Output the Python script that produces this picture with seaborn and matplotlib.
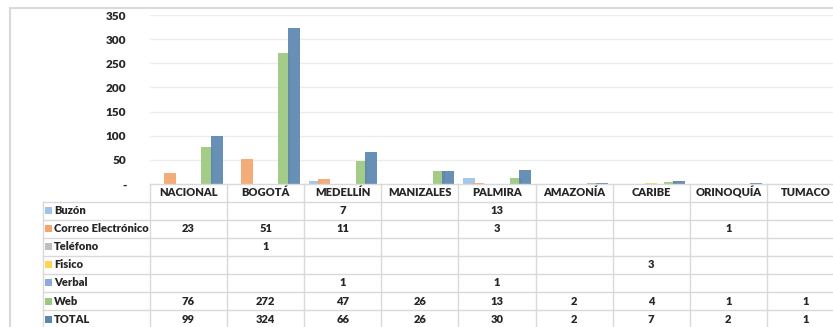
import numpy as np
import pandas as pd
import matplotlib.pyplot as plt
import seaborn as sns
from matplotlib.patches import Rectangle
from matplotlib.lines import Line2D

# datos de la tabla
regiones = ['NACIONAL', 'BOGOTÁ', 'MEDELLÍN', 'MANIZALES', 'PALMIRA',
            'AMAZONÍA', 'CARIBE', 'ORINOQUÍA', 'TUMACO']
canales = ['Buzón', 'Correo Electrónico', 'Teléfono', 'Fisico', 'Verbal', 'Web', 'TOTAL']
nan = np.nan
buzon = [nan, nan, 7, nan, 13, nan, nan, nan, nan]
correo = [23, 51, 11, nan, 3, nan, nan, 1, nan]
telefono = [nan, 1, nan, nan, nan, nan, nan, nan, nan]
fisico = [nan, nan, nan, nan, nan, nan, 3, nan, nan]
verbal = [nan, nan, 1, nan, 1, nan, nan, nan, nan]
web = [76, 272, 47, 26, 13, 2, 4, 1, 1]
total = [99, 324, 66, 26, 30, 2, 7, 2, 1]
series = [buzon, correo, telefono, fisico, verbal, web, total]
colores = ['#9DC3E6', '#F4A56E', '#BFBFBF', '#FFD44F', '#8EA9DB', '#9BC87E', '#5B86B0']
yticks = [0, 50, 100, 150, 200, 250, 300, 350]

filas = []
for canal, vals in zip(canales, series):
    for reg, v in zip(regiones, vals):
        filas.append({'region': reg, 'canal': canal, 'valor': v})
df = pd.DataFrame(filas)

W, H = 833, 327
fig = plt.figure(figsize=(W / 100, H / 100), dpi=100)
plt.rcParams['font.family'] = ['Lato', 'DejaVu Sans']
FS = 8
PESO = 'heavy'

# area del grafico (se sale por la derecha como en el original)
x0, x1 = 150, 844
ytop, ybot = 15, 184
ax = fig.add_axes([x0 / W, 1 - ybot / H, (x1 - x0) / W, (ybot - ytop) / H])

sns.barplot(data=df.dropna(), x='region', y='valor', hue='canal',
            order=regiones, hue_order=canales, palette=colores, saturation=1,
            width=0.85, alpha=0.92, linewidth=0, legend=False, ax=ax, zorder=3)

# barras un poco mas anchas que el paso (se solapan como en Excel)
for p in ax.patches:
    c = p.get_x() + p.get_width() / 2
    p.set_width(0.155)
    p.set_x(c - 0.0775)

ax.set_xlim(-0.5, len(regiones) - 0.5)
ax.set_ylim(0, 350)
ax.set_yticks(yticks)
ax.set_yticklabels(['-' if t == 0 else str(t) for t in yticks],
                   fontsize=FS + 0.5, fontweight=PESO, color='#262626')
ax.tick_params(axis='y', length=0, pad=17)
ax.set_xticks([])
ax.set_xlabel('')
ax.set_ylabel('')
for t in yticks[1:]:
    ax.axhline(t, color='#EDEDED', lw=1, zorder=0)
for s in ax.spines.values():
    s.set_visible(False)
ax.patch.set_alpha(0)

# marco del grafico
fig.patches.append(Rectangle((10 / W, -0.2), 1.2, 1.2 - 8 / H, transform=fig.transFigure,
                             fill=False, edgecolor='#D9D9D9', lw=1.5))

# tabla de datos
col_w = (x1 - x0) / len(regiones)
gris = '#D9D9D9'
fila_h = 18.1
y_head = 184
y_filas = [201.5 + i * fila_h for i in range(len(canales) + 1)]
x_left = 43


def fx(px):
    return px / W


def fy(py):
    return 1 - py / H


def linea(xa, ya, xb, yb):
    fig.add_artist(Line2D([fx(xa), fx(xb)], [fy(ya), fy(yb)], color=gris, lw=1))


linea(x0, y_head, W + 20, y_head)
for i in range(len(regiones) + 1):
    xc = x0 + i * col_w
    linea(xc, y_head, xc, H + 10)
for yy in y_filas:
    linea(x_left, yy, W + 20, yy)
linea(x_left, y_filas[0], x_left, H + 10)

for i, reg in enumerate(regiones):
    fig.text(fx(x0 + (i + 0.5) * col_w), fy(192.8), reg, ha='center', va='center',
             fontsize=FS, fontweight=PESO, color='#262626')

for j, (canal, vals, col) in enumerate(zip(canales, series, colores)):
    yc = y_filas[0] + (j + 0.5) * fila_h
    fig.patches.append(Rectangle((fx(45), fy(yc + 3.5)), 7 / W, 7 / H,
                                 transform=fig.transFigure, color=col, lw=0))
    fig.text(fx(54), fy(yc), canal, ha='left', va='center',
             fontsize=FS, fontweight=PESO, color='#262626')
    for i, v in enumerate(vals):
        if not np.isnan(v):
            fig.text(fx(x0 + (i + 0.5) * col_w), fy(yc), str(int(v)), ha='center',
                     va='center', fontsize=FS, fontweight=PESO, color='#262626')

fig.savefig('out.png', dpi=100)
